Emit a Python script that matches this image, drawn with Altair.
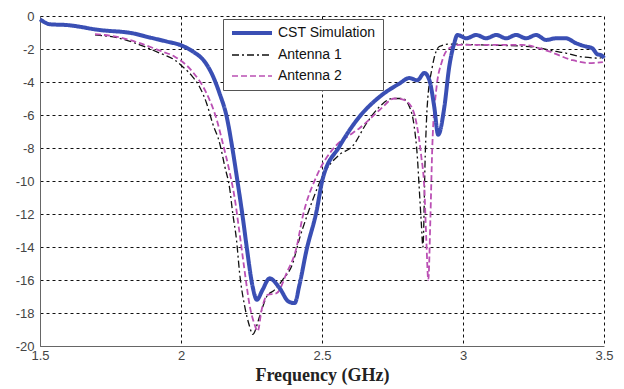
import altair as alt
import pandas as pd

# ---------------- data ----------------
cst_f = [1.500, 1.535, 1.596, 1.712, 1.829, 1.889, 1.950, 1.996, 2.042, 2.084, 2.112, 2.137,
         2.162, 2.183, 2.201, 2.219, 2.233, 2.254, 2.269, 2.289, 2.314, 2.350, 2.381, 2.403,
         2.420, 2.445, 2.481, 2.502, 2.562, 2.633, 2.704, 2.774, 2.810, 2.838, 2.863, 2.881,
         2.898, 2.912, 2.934, 2.951, 2.969, 2.980, 3.012, 3.047, 3.082, 3.118, 3.153, 3.188,
         3.224, 3.259, 3.295, 3.330, 3.365, 3.401, 3.436, 3.458, 3.475, 3.493, 3.500]
cst_db = [-0.2, -0.5, -0.55, -0.85, -1.05, -1.3, -1.55, -1.75, -2.15, -2.77, -3.6, -4.7,
          -6.1, -8.1, -10.1, -12.2, -14.0, -16.4, -17.2, -16.6, -15.9, -16.5, -17.3, -17.4,
          -16.3, -14.2, -11.8, -9.9, -7.9, -6.1, -4.9, -4.1, -3.76, -3.9, -3.45, -3.9,
          -5.5, -7.2, -5.5, -3.1, -1.65, -1.15, -1.35, -1.15, -1.35, -1.15, -1.35, -1.15,
          -1.35, -1.15, -1.45, -1.35, -1.35, -1.65, -1.85, -1.95, -2.3, -2.4, -2.55]

a1_f = [1.695, 1.783, 1.854, 1.925, 1.978, 2.006, 2.042, 2.066, 2.091, 2.112, 2.137, 2.155,
        2.173, 2.183, 2.197, 2.208, 2.226, 2.243, 2.254, 2.279, 2.304, 2.332, 2.360, 2.396,
        2.420, 2.445, 2.466, 2.502, 2.562, 2.608, 2.658, 2.704, 2.750, 2.785, 2.810, 2.827,
        2.838, 2.845, 2.852, 2.858, 2.866, 2.873, 2.891, 2.916, 2.951, 3.058, 3.235, 3.330,
        3.365, 3.412, 3.482, 3.496]
a1_db = [-1.15, -1.35, -1.75, -2.25, -2.67, -3.07, -3.7, -4.3, -5.3, -6.5, -7.7, -9.1,
         -10.5, -11.9, -13.6, -15.6, -17.6, -18.8, -19.3, -18.2, -17.0, -16.6, -16.0, -15.0,
         -13.5, -12.2, -11.2, -9.7, -8.4, -7.9, -6.5, -5.5, -5.0, -5.0, -5.5, -6.7,
         -8.5, -10.5, -12.5, -14.0, -8.5, -5.5, -3.1, -1.85, -1.7, -1.75, -1.85, -2.15,
         -2.25, -2.45, -2.55, -2.5]

a2_f = [1.695, 1.783, 1.854, 1.925, 1.978, 2.042, 2.091, 2.127, 2.148, 2.173, 2.190, 2.208,
        2.226, 2.243, 2.261, 2.272, 2.286, 2.307, 2.339, 2.374, 2.410, 2.431, 2.481, 2.537,
        2.608, 2.633, 2.704, 2.757, 2.785, 2.817, 2.835, 2.852, 2.863, 2.870, 2.877, 2.884,
        2.891, 2.905, 2.927, 2.951, 2.987, 3.210, 3.305, 3.387, 3.447, 3.496]
a2_db = [-1.1, -1.3, -1.65, -2.1, -2.47, -3.4, -4.7, -6.3, -7.7, -9.5, -11.0, -13.2,
         -15.5, -17.5, -18.7, -19.1, -17.8, -16.9, -16.8, -15.6, -14.0, -12.2, -9.7, -8.1,
         -7.1, -6.8, -5.7, -5.0, -5.05, -5.5, -6.5, -8.5, -10.5, -13.6, -16.0, -12.5,
         -8.0, -4.5, -2.67, -1.95, -1.75, -1.75, -2.15, -2.67, -2.85, -2.8]

series_order = ["CST Simulation", "Antenna 1", "Antenna 2"]
series_colors = ["#3a4fb4", "#111111", "#bb50b4"]
series_dashes = [[1, 0], [7, 3, 2, 3], [6, 3]]

x_ticks = [1.5, 2, 2.5, 3, 3.5]
y_ticks = list(range(-20, 1, 2))

rows = []
for name, fs, ds in [("Antenna 1", a1_f, a1_db), ("Antenna 2", a2_f, a2_db),
                     ("CST Simulation", cst_f, cst_db)]:
    for f, d in zip(fs, ds):
        rows.append({"series": name, "f": f, "db": d})
df = pd.DataFrame(rows)

legend = alt.Legend(
    title=None, orient="none", legendX=183, legendY=3,
    symbolType="M-1,0H7", symbolSize=100, labelOffset=34,
    labelFont="Liberation Sans", labelFontSize=14, labelColor="#111",
    rowPadding=7, padding=7, fillColor="white", strokeColor="#555",
    symbolStrokeWidth=alt.ExprRef(expr="datum.value === 'CST Simulation' ? 4 : 1.6"),
)

chart = alt.Chart(df).mark_line(interpolate="monotone").encode(
    x=alt.X("f:Q", scale=alt.Scale(domain=[1.5, 3.5], nice=False, zero=False),
            axis=alt.Axis(values=x_ticks, labelExpr="'' + datum.value", labelFlush=False,
                          title="Frequency (GHz)", titleFont="Liberation Serif",
                          titleFontSize=18, titleFontWeight="bold", titleColor="#222",
                          labelPadding=3, titlePadding=4)),
    y=alt.Y("db:Q", scale=alt.Scale(domain=[-20, 0], nice=False),
            axis=alt.Axis(values=y_ticks, labelExpr="'' + datum.value", title=None,
                          labelFlush=False, labelPadding=6)),
    color=alt.Color("series:N", scale=alt.Scale(domain=series_order, range=series_colors),
                    legend=legend),
    strokeDash=alt.StrokeDash("series:N",
                              scale=alt.Scale(domain=series_order, range=series_dashes),
                              legend=legend),
    strokeWidth=alt.when(alt.datum.series == "CST Simulation").then(alt.value(4))
                  .when(alt.datum.series == "Antenna 2").then(alt.value(1.8))
                  .otherwise(alt.value(1.3)),
).properties(
    width=564, height=330,
    padding={"left": 40, "top": 16, "right": 20, "bottom": 43},
    autosize=alt.AutoSizeParams(type="none"),
    background="white",
).configure_view(stroke=None).configure_axis(
    grid=True, gridColor="#111", gridDash=[3, 3], gridOpacity=1, gridWidth=1,
    domainColor="#666", domainWidth=1, ticks=False,
    labelFont="Liberation Sans", labelFontSize=13, labelColor="#444",
)

chart.save("out.html", embed_options={"renderer": "svg", "actions": False})
